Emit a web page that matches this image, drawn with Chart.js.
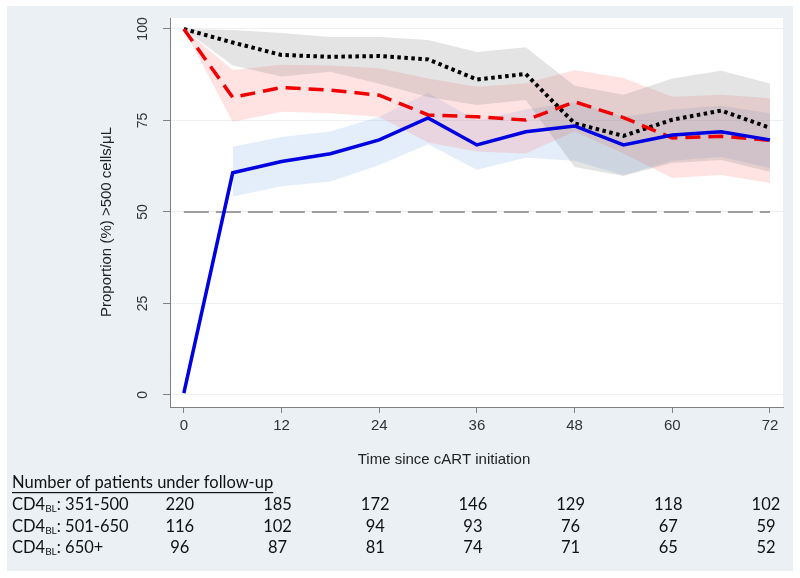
<!DOCTYPE html>
<html>
<head>
<meta charset="utf-8">
<script src="https://cdn.jsdelivr.net/npm/chart.js@4"></script>
<style>
  html, body { margin: 0; padding: 0; background: #fff; }
  #wrap { width: 800px; height: 578px; }
</style>
</head>
<body>
<div id="wrap"><canvas id="chart"></canvas></div>
<script>
// months since cART initiation
const months = [0, 6, 12, 18, 24, 30, 36, 42, 48, 54, 60, 66, 72];

// CD4 BL 351-500 (blue, solid)
const grpLow = [0.5, 60.7, 63.8, 65.9, 69.7, 75.7, 68.3, 71.9, 73.5, 68.3, 71, 71.9, 69.7];
const grpLowHi = [null, 67.8, 70.5, 72, 76, 82.5, 75, 78, 80, 76, 78, 79, 77];
const grpLowLo = [null, 54.2, 57, 58.3, 62.8, 68.5, 61.5, 64.8, 64, 60, 64, 65, 62];

// CD4 BL 501-650 (red, dashed)
const grpMid = [100, 81.3, 84, 83.3, 81.9, 76.5, 76, 75.1, 80.1, 75.8, 70.2, 70.7, 69.6];
const grpMidHi = [100, 88.8, 90.2, 90, 89.3, 86.5, 84.2, 85.2, 88.8, 86.6, 81.5, 82, 81.1];
const grpMidLo = [100, 74.6, 77.4, 77, 76, 69, 66.5, 66, 72, 66, 59.3, 60.1, 57.9];

// CD4 BL 650+ (black, dotted)
const grpHigh = [100, 96.3, 92.9, 92.4, 92.6, 91.7, 86.2, 87.7, 74.2, 70.8, 75.2, 77.7, 73];
const grpHighHi = [100, 99.7, 98.9, 97.8, 97.8, 97, 93.7, 95, 84.5, 82, 86.5, 88.6, 85.1];
const grpHighLo = [100, 90, 87, 88.3, 85, 81.4, 79.2, 80.6, 62.3, 59.8, 63.4, 64.2, 61];

const refLevel = 50;

const xTicks = [0, 12, 24, 36, 48, 60, 72];
const yTicks = [0, 25, 50, 75, 100];

// patients under follow-up at each x tick
const rowLabels = ['351-500', '501-650', '650+'];
const atRisk351 = [220, 185, 172, 146, 129, 118, 102];
const atRisk501 = [116, 102, 94, 93, 76, 67, 59];
const atRisk650 = [96, 87, 81, 74, 71, 65, 52];

const pts = ys => months.map((m, i) => ({ x: m, y: ys[i] })).filter(p => p.y !== null);

const band = (data, color, fill) => ({
    data: pts(data),
    borderWidth: 0,
    pointRadius: 0,
    backgroundColor: color,
    fill: fill
});

const TABLE_FONT = '16.5px Lato, "Open Sans", sans-serif';

const decor = {
    id: 'decor',
    beforeDraw(chart) {
        const { ctx, chartArea: a } = chart;
        ctx.save();
        ctx.fillStyle = '#ffffff';
        ctx.fillRect(0, 0, chart.width, chart.height);
        ctx.fillStyle = '#eaf0f4';
        ctx.fillRect(7, 6, 786, 565);
        ctx.fillStyle = '#ffffff';
        ctx.fillRect(a.left, a.top, a.right - a.left, a.bottom - a.top);
        ctx.restore();
    },
    afterDraw(chart) {
        const { ctx } = chart;
        const xs = chart.scales.x, ys = chart.scales.y;
        ctx.save();
        ctx.fillStyle = '#333';
        ctx.textBaseline = 'middle';
        ctx.textAlign = 'center';

        // y tick labels, rotated
        ctx.font = '14px "Liberation Sans", Arial, sans-serif';
        yTicks.forEach(v => {
            ctx.save();
            ctx.translate(143, ys.getPixelForValue(v));
            ctx.rotate(-Math.PI / 2);
            ctx.fillText(String(v), 0, 0);
            ctx.restore();
        });

        // y title
        ctx.save();
        ctx.translate(107, 222);
        ctx.rotate(-Math.PI / 2);
        ctx.font = '15px "Liberation Sans", Arial, sans-serif';
        ctx.fillStyle = '#222';
        ctx.fillText('Proportion (%) >500 cells/μL', 0, 0);
        ctx.restore();

        // x tick labels
        ctx.font = '15px "Liberation Sans", Arial, sans-serif';
        xTicks.forEach(v => ctx.fillText(String(v), xs.getPixelForValue(v), 426));

        // x title
        ctx.fillStyle = '#222';
        ctx.fillText('Time since cART initiation', 444, 460);

        // follow-up table
        ctx.fillStyle = '#111';
        ctx.textAlign = 'left';
        ctx.font = TABLE_FONT;
        const head = 'Number of patients under follow-up';
        ctx.fillText(head, 12, 483);
        const hw = ctx.measureText(head).width;
        ctx.fillRect(12, 492, hw, 1.2);

        const rows = [atRisk351, atRisk501, atRisk650];
        const rowY = [505, 527, 548];
        rows.forEach((vals, r) => {
            const y = rowY[r];
            ctx.textAlign = 'left';
            ctx.font = TABLE_FONT;
            ctx.fillText('CD4', 12, y);
            let x = 12 + ctx.measureText('CD4').width;
            ctx.font = '10px Lato, "Open Sans", sans-serif';
            ctx.fillText('BL', x, y + 4);
            x += ctx.measureText('BL').width;
            ctx.font = TABLE_FONT;
            ctx.fillText(': ' + rowLabels[r], x, y);
            ctx.textAlign = 'center';
            vals.forEach((n, i) => ctx.fillText(String(n), xs.getPixelForValue(xTicks[i]) - 4, y));
        });
        ctx.restore();
    }
};

new Chart(document.getElementById('chart'), {
    type: 'line',
    data: {
        datasets: [
            {
                data: pts(grpLow),
                borderColor: '#0000e0',
                borderWidth: 3.5,
                pointRadius: 0,
                fill: false
            },
            {
                data: pts(grpMid),
                borderColor: '#f00000',
                borderWidth: 3.5,
                borderDash: [15, 8],
                pointRadius: 0,
                fill: false
            },
            {
                data: pts(grpHigh),
                borderColor: '#000000',
                borderWidth: 4,
                borderDash: [3.5, 3.5],
                borderCapStyle: 'butt',
                pointRadius: 0,
                fill: false
            },
            {
                data: [{ x: 0, y: refLevel }, { x: 72, y: refLevel }],
                borderColor: '#808080',
                borderWidth: 1.5,
                borderDash: [25, 7],
                pointRadius: 0,
                fill: false
            },
            band(grpHighHi, 'rgba(120,120,120,0.2)', '+1'),
            band(grpHighLo, 'rgba(0,0,0,0)', false),
            band(grpMidHi, 'rgba(255,100,100,0.18)', '+1'),
            band(grpMidLo, 'rgba(0,0,0,0)', false),
            band(grpLowHi, 'rgba(100,160,230,0.18)', '+1'),
            band(grpLowLo, 'rgba(0,0,0,0)', false)
        ]
    },
    options: {
        responsive: true,
        maintainAspectRatio: false,
        animation: false,
        layout: { padding: { left: 163, top: 18, right: 17, bottom: 165 } },
        plugins: {
            legend: { display: false },
            tooltip: { enabled: false }
        },
        scales: {
            x: {
                type: 'linear',
                min: -1.7,
                max: 73.6,
                afterBuildTicks: s => { s.ticks = xTicks.map(v => ({ value: v })); },
                ticks: { display: false },
                grid: { drawOnChartArea: false, drawTicks: true, tickLength: 6, tickColor: '#808080' },
                border: { color: '#808080', width: 1 }
            },
            y: {
                min: -3.3,
                max: 103,
                afterBuildTicks: s => { s.ticks = yTicks.map(v => ({ value: v })); },
                ticks: { display: false },
                grid: { color: '#eef1f3', drawTicks: true, tickLength: 7, tickColor: '#808080' },
                border: { color: '#808080', width: 1 }
            }
        }
    },
    plugins: [decor]
});
</script>
</body>
</html>
